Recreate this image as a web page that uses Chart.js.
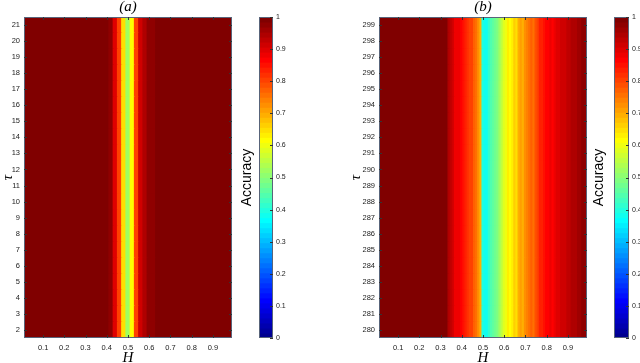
<!DOCTYPE html>
<html>
<head>
<meta charset="utf-8">
<script src="https://cdn.jsdelivr.net/npm/chart.js@4.4.1/dist/chart.umd.min.js"></script>
<style>
body{margin:0;background:#fff;width:640px;height:363px;overflow:hidden;position:relative}
canvas{position:absolute;top:0}
</style>
</head>
<body>
<canvas id="heatA" width="232" height="363" style="left:0px"></canvas>
<canvas id="barA" width="60" height="363" style="left:240px"></canvas>
<canvas id="heatB" width="242" height="363" style="left:345px"></canvas>
<canvas id="barB" width="48" height="363" style="left:592px"></canvas>
<script>
// H grid of each panel
const hA=[0.02,0.04,0.06,0.08,0.10,0.12,0.14,0.16,0.18,0.20,0.22,0.24,0.26,0.28,0.30,0.32,0.34,0.36,0.38,0.40,
  0.42,0.44,0.46,0.48,0.50,0.52,0.54,0.56,0.58,0.60,
  0.62,0.64,0.66,0.68,0.70,0.72,0.74,0.76,0.78,0.80,0.82,0.84,0.86,0.88,0.90,0.92,0.94,0.96,0.98];
const hB=[0.01,0.02,0.03,0.04,0.05,0.06,0.07,0.08,0.09,0.10,0.11,0.12,0.13,0.14,0.15,0.16,0.17,0.18,0.19,0.20,
  0.21,0.22,0.23,0.24,0.25,0.26,0.27,0.28,0.29,0.30,0.31,0.32,0.33,0.34,0.35,0.36,0.37,0.38,0.39,0.40,
  0.41,0.42,0.43,0.44,0.45,0.46,0.47,0.48,0.49,0.50,0.51,0.52,0.53,0.54,0.55,0.56,0.57,0.58,0.59,0.60,
  0.61,0.62,0.63,0.64,0.65,0.66,0.67,0.68,0.69,0.70,0.71,0.72,0.73,0.74,0.75,0.76,0.77,0.78,0.79,0.80,
  0.81,0.82,0.83,0.84,0.85,0.86,0.87,0.88,0.89,0.90,0.91,0.92,0.93,0.94,0.95,0.96,0.97,0.98,0.99];
// tau rows
const tauA=[2,3,4,5,6,7,8,9,10,11,12,13,14,15,16,17,18,19,20,21];
const tauB=[280,281,282,283,284,285,286,287,288,289,290,291,292,293,294,295,296,297,298,299];
// accuracy per H column (same along tau)
const accA=[0.99,0.99,0.99,0.99,0.99,0.99,0.99,0.99,0.99,0.99,0.99,0.99,0.99,0.99,0.99,0.99,0.99,0.99,0.99,0.99,
  0.97,0.90,0.80,0.65,0.52,0.61,0.81,0.91,0.95,0.975,
  0.98,0.99,0.99,0.99,0.99,0.99,0.99,0.99,0.99,0.99,0.99,0.99,0.99,0.99,0.99,0.99,0.99,0.99,0.99];
const accB=[0.99,0.99,0.99,0.99,0.99,0.99,0.99,0.99,0.99,0.99,0.99,0.99,0.99,0.99,0.99,0.99,0.99,0.99,0.99,0.99,
  0.99,0.99,0.99,0.99,0.99,0.99,0.99,0.99,0.99,0.99,0.99,0.99,0.99,
  0.95,0.93,0.92,0.89,0.88,0.88,0.86,0.85,0.83,0.82,0.81,0.80,0.78,0.76,0.73,0.70,
  0.40,0.38,0.39,0.41,0.44,0.46,0.47,0.49,0.52,0.55,
  0.58,0.60,0.63,0.61,0.64,0.66,0.65,0.69,0.71,0.70,
  0.73,0.74,0.76,0.77,0.76,0.79,0.81,0.83,0.84,0.85,
  0.86,0.87,0.88,0.87,0.89,0.90,0.90,0.91,0.92,0.92,
  0.93,0.93,0.94,0.95,0.95,0.96,0.96,0.97,0.98,0.97];
const hTicks=[0.1,0.2,0.3,0.4,0.5,0.6,0.7,0.8,0.9];
const cbTicks=[0,0.1,0.2,0.3,0.4,0.5,0.6,0.7,0.8,0.9,1];

// matlab jet(64)
const JET=(function(){
  const m=64,n=16,u=[];
  for(let i=1;i<=n;i++)u.push(i/n);
  for(let i=0;i<n-1;i++)u.push(1);
  for(let i=n;i>=1;i--)u.push(i/n);
  const J=[];for(let i=0;i<m;i++)J.push([0,0,0]);
  for(let k=0;k<u.length;k++){
    const g=8+k+1,r=g+n,b=g-n;
    if(r>=1&&r<=m)J[r-1][0]=u[k];
    if(g>=1&&g<=m)J[g-1][1]=u[k];
    if(b>=1&&b<=m)J[b-1][2]=u[k];
  }
  return J.map(c=>'rgb('+c.map(v=>Math.round(v*255)).join(',')+')');
})();
const jet=v=>JET[Math.max(0,Math.min(63,Math.floor(v*64)))];

const tickFont={family:'Liberation Sans',size:7.5};
const frame={
  id:'frame',
  afterDraw(chart,args,o){
    const {ctx,chartArea:a}=chart;
    ctx.save();
    ctx.strokeStyle='#58647a';ctx.lineWidth=1;
    ctx.strokeRect(a.left+0.5,a.top+0.5,a.width-1,a.height-1);
    ctx.strokeStyle='#333';
    ctx.beginPath();
    if(o.x){const s=chart.scales.x;
      o.x.forEach(v=>{const p=Math.round(s.getPixelForValue(v))+0.5;
        ctx.moveTo(p,a.bottom);ctx.lineTo(p,a.bottom-3);ctx.moveTo(p,a.top);ctx.lineTo(p,a.top+3);});}
    if(o.y){const s=chart.scales[o.yId||'y'];
      o.y.forEach(v=>{const p=Math.round(s.getPixelForValue(v))+0.5;
        if(!o.rightOnly){ctx.moveTo(a.left,p);ctx.lineTo(a.left+3,p);}
        ctx.moveTo(a.right,p);ctx.lineTo(a.right-3,p);});}
    ctx.stroke();
    ctx.restore();
  }
};

function heat(id,label,hs,taus,acc,yW,tauPad){
  const datasets=taus.map(t=>({
    data:hs.map(h=>({x:h,y:[t-0.5,t+0.5]})),
    backgroundColor:acc.map(jet),
    borderWidth:0,inflateAmount:0.5,barPercentage:1,categoryPercentage:1,grouped:false
  }));
  new Chart(document.getElementById(id),{
    type:'bar',
    data:{datasets},
    plugins:[frame],
    options:{
      responsive:false,animation:false,devicePixelRatio:1,
      layout:{padding:0},
      plugins:{
        legend:{display:false},tooltip:{enabled:false},
        title:{display:true,text:label,fullSize:false,color:'#000',
          font:{family:'Liberation Serif',style:'italic',size:15,weight:'normal',lineHeight:1},padding:{top:0,bottom:2}},
        frame:{x:hTicks,y:taus}
      },
      scales:{
        x:{type:'linear',min:0.01,max:0.99,offset:false,
          grid:{display:false,drawTicks:false},border:{display:false},
          afterBuildTicks:s=>{s.ticks=hTicks.map(v=>({value:v}));},
          ticks:{font:tickFont,color:'#222',padding:5,maxRotation:0,autoSkip:false,callback:v=>String(v)},
          title:{display:true,text:'H',color:'#000',font:{family:'Liberation Serif',style:'italic',size:15,lineHeight:1},padding:{top:0,bottom:-2.5}},
          afterFit:s=>{s.height=25;}},
        y:{type:'linear',min:taus[0]-0.5,max:taus[taus.length-1]+0.5,
          grid:{display:false,drawTicks:false},border:{display:false},
          afterBuildTicks:s=>{s.ticks=taus.map(v=>({value:v}));},
          ticks:{font:tickFont,color:'#222',padding:4,autoSkip:false,callback:v=>String(v)},
          title:{display:true,text:'τ',color:'#000',font:{family:'Liberation Serif',style:'italic',size:15,lineHeight:1},padding:{top:tauPad,bottom:0}},
          afterFit:s=>{s.width=yW;}}
      }
    }
  });
}

function colorbar(id,leftW,rightW){
  const levels=JET.map((c,i)=>({x:0.5,y:[i/64,(i+1)/64]}));
  new Chart(document.getElementById(id),{
    type:'bar',
    data:{datasets:[{data:levels,backgroundColor:JET,borderWidth:0,inflateAmount:0.5,barPercentage:1,categoryPercentage:1,yAxisID:'y'}]},
    plugins:[frame],
    options:{
      responsive:false,animation:false,devicePixelRatio:1,
      layout:{padding:{top:17,bottom:25}},
      plugins:{legend:{display:false},tooltip:{enabled:false},frame:{y:cbTicks,rightOnly:true}},
      scales:{
        x:{type:'linear',min:0,max:1,offset:false,display:false},
        y:{type:'linear',position:'right',min:0,max:1,
          grid:{display:false,drawTicks:false},border:{display:false},
          afterBuildTicks:s=>{s.ticks=cbTicks.map(v=>({value:v}));},
          ticks:{font:{family:'Liberation Sans',size:7},color:'#222',padding:3,callback:v=>String(v)},
          afterFit:s=>{s.width=rightW;}},
        yL:{type:'linear',position:'left',min:0,max:1,
          grid:{display:false,drawTicks:false},border:{display:false},ticks:{display:false},
          title:{display:true,text:'Accuracy',color:'#000',font:{family:'Liberation Sans',size:14,lineHeight:1},padding:0},
          afterFit:s=>{s.width=leftW;}}
      }
    }
  });
}

heat('heatA','(a)',hA,tauA,accA,24,0.5);
heat('heatB','(b)',hB,tauB,accB,34,3.5);
colorbar('barA',19,27);
colorbar('barB',22,11);
</script>
</body>
</html>
